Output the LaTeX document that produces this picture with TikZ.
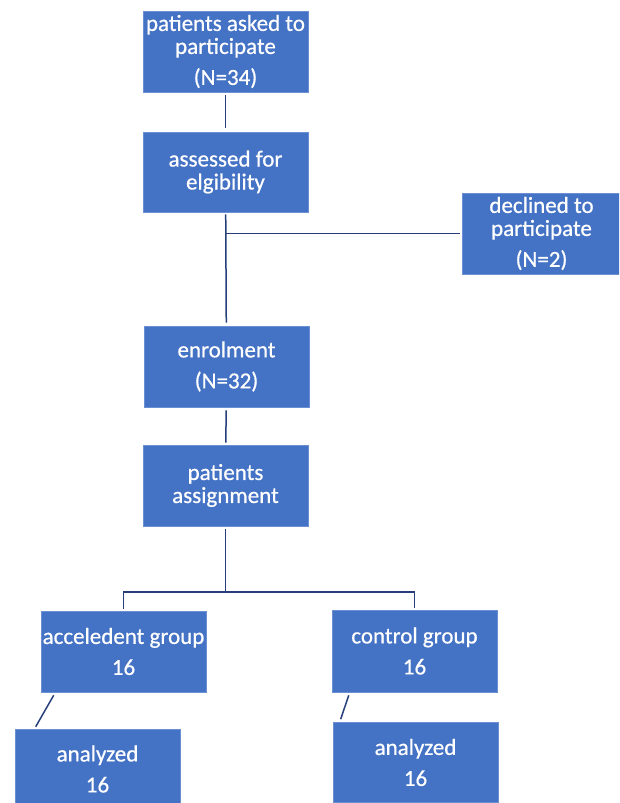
\documentclass[tikz,border=0pt]{standalone}
\usepackage{fontspec}
\setmainfont[FakeBold=0.6]{Carlito}
\usetikzlibrary{calc}
\definecolor{boxblue}{HTML}{4472C4}
\definecolor{boxedge}{HTML}{6A8FD2}
\definecolor{linkc}{HTML}{263E7A}
\begin{document}
\begin{tikzpicture}[x=1pt,y=-1pt,
  box/.style={rectangle, fill=boxblue, draw=boxedge, line width=0.6pt,
    text=white, align=center, inner sep=0pt,
    minimum width=165pt, minimum height=81pt,
    font=\fontsize{23}{23}\selectfont},
  link/.style={draw=linkc, line width=1.5pt}]
\useasboundingbox (0,0) rectangle (619,803);
\clip (0,0) rectangle (619,803);

\node[box] (ask) at (225.5,51.5) {patients asked to\\participate\\[8pt](N=34)};
\node[box, minimum height=80pt] (elig) at (225.5,172) {assessed for\\elgibility};
\node[box, minimum width=158pt] (decl) at (541.5,233.5) {declined to\\participate\\[8pt](N=2)};
\node[box] (enrol) at (226.5,366.5) {enrolment\\[8pt](N=32)};
\node[box] (assign) at (225.5,485.5) {patients\\assignment};
\node[box] (accel) at (123.5,651.5) {acceledent group\\[8pt]16};
\node[box, minimum height=82pt] (ctrl) at (414.5,651) {control group\\[8pt]16};
\node[box, minimum height=80pt] (anl1) at (97.5,769) {analyzed\\[8pt]16};
\node[box, minimum height=80pt] (anl2) at (415.5,762.5) {analyzed\\[8pt]16};

\coordinate (split) at (225.5,592);

\draw[link, shorten <=3pt, shorten >=4pt] (ask) -- (elig);
\draw[link, shorten <=2pt, shorten >=3pt] (elig) -- (enrol);
\draw[link, shorten >=2pt] (elig.south |- decl.west) -- (decl.west);
\draw[link, shorten <=3pt, shorten >=2pt] (enrol) -- (assign);
\draw[link, shorten <=3pt] (assign) -- (split);
\draw[link, shorten <=2pt] (accel.north) |- (split);
\draw[link, shorten >=2pt] (split) -| (ctrl.north);
\draw[link] ($(accel.south west)+(13,3)$) -- ($(anl1.north west)+(21,-2)$);
\draw[link] ($(ctrl.south west)+(17,3)$) -- ($(anl2.north west)+(8,-3)$);
\end{tikzpicture}
\end{document}
